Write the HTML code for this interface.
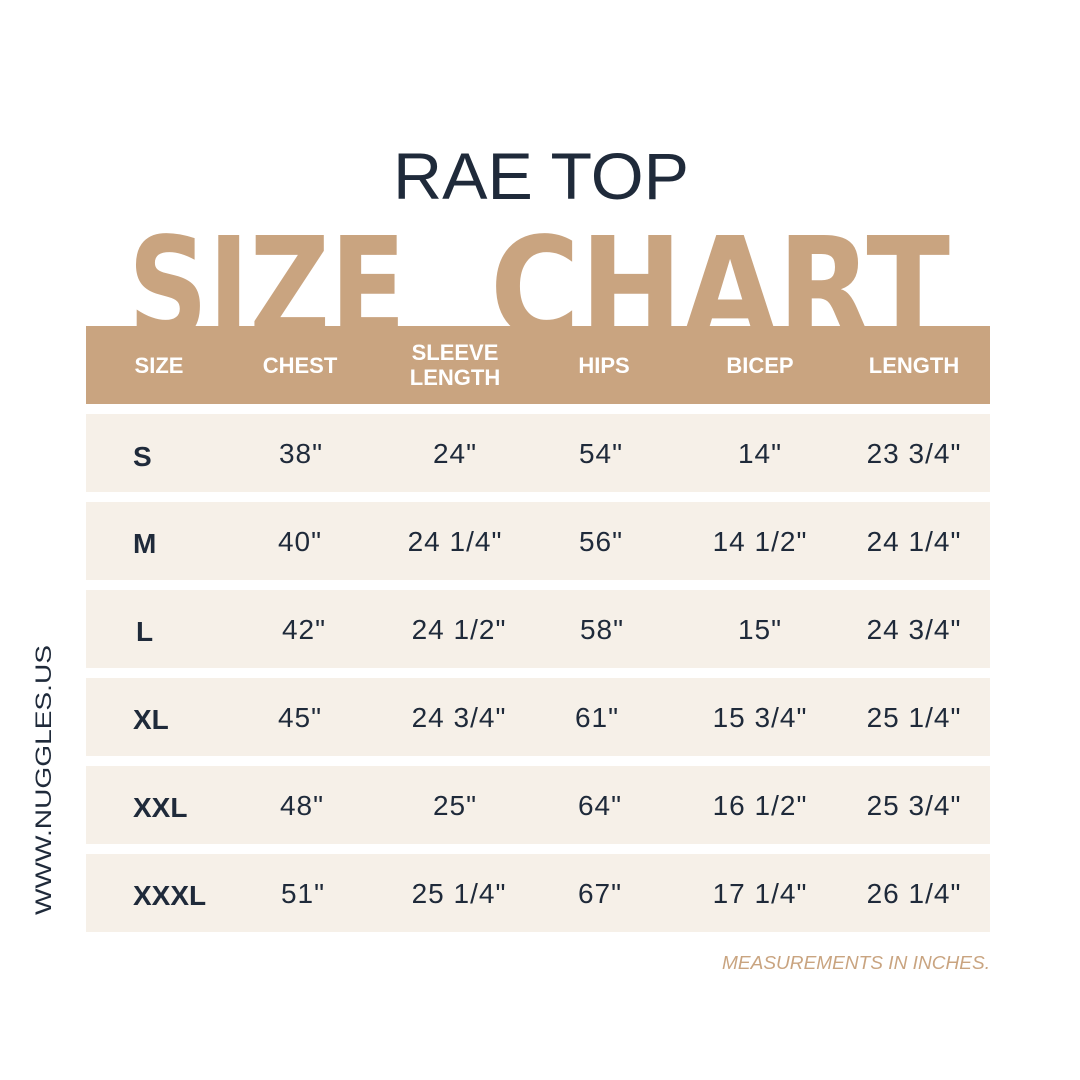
<!DOCTYPE html>
<html><head><meta charset="utf-8"><style>
html,body{margin:0;padding:0;background:#fff;}
svg{display:block}
</style></head><body>
<svg width="1080" height="1080" viewBox="0 0 1080 1080" xmlns="http://www.w3.org/2000/svg" font-family="Liberation Sans, sans-serif">
<rect width="1080" height="1080" fill="#fff"/>
<text x="541" y="199" text-anchor="middle" font-size="66" fill="#1f2a3a" textLength="296" lengthAdjust="spacingAndGlyphs">RAE TOP</text>
<g font-family="DejaVu Sans, sans-serif" font-size="140" font-weight="bold" fill="#c9a480">
<text x="128" y="337" textLength="278" lengthAdjust="spacingAndGlyphs">SIZE</text>
<text x="490" y="337" textLength="460" lengthAdjust="spacingAndGlyphs">CHART</text>
</g>
<rect x="86" y="326" width="904" height="78" fill="#c9a480"/>
<g fill="#fff" font-weight="bold" font-size="22" text-anchor="middle">
<text x="159" y="373">SIZE</text>
<text x="300" y="373">CHEST</text>
<text x="455" y="360">SLEEVE</text>
<text x="455" y="385">LENGTH</text>
<text x="604" y="373">HIPS</text>
<text x="760" y="373">BICEP</text>
<text x="914" y="373">LENGTH</text>
</g>
<g fill="#f6f0e8">
<rect x="86" y="414" width="904" height="78"/>
<rect x="86" y="502" width="904" height="78"/>
<rect x="86" y="590" width="904" height="78"/>
<rect x="86" y="678" width="904" height="78"/>
<rect x="86" y="766" width="904" height="78"/>
<rect x="86" y="854" width="904" height="78"/>
</g>
<g fill="#1f2a3a" font-size="28">
<g font-weight="bold">
<text x="133" y="466">S</text>
<text x="133" y="553">M</text>
<text x="136" y="641">L</text>
<text x="133" y="729">XL</text>
<text x="133" y="817">XXL</text>
<text x="133" y="905">XXXL</text>
</g>
<g text-anchor="middle" letter-spacing="1">
<text x="301" y="463">38"</text><text x="455" y="463">24"</text><text x="601" y="463">54"</text><text x="760" y="463">14"</text><text x="914" y="463">23 3/4"</text>
<text x="300" y="551">40"</text><text x="455" y="551">24 1/4"</text><text x="601" y="551">56"</text><text x="760" y="551">14 1/2"</text><text x="914" y="551">24 1/4"</text>
<text x="304" y="639">42"</text><text x="459" y="639">24 1/2"</text><text x="602" y="639">58"</text><text x="760" y="639">15"</text><text x="914" y="639">24 3/4"</text>
<text x="300" y="727">45"</text><text x="459" y="727">24 3/4"</text><text x="597" y="727">61"</text><text x="760" y="727">15 3/4"</text><text x="914" y="727">25 1/4"</text>
<text x="302" y="815">48"</text><text x="455" y="815">25"</text><text x="600" y="815">64"</text><text x="760" y="815">16 1/2"</text><text x="914" y="815">25 3/4"</text>
<text x="303" y="903">51"</text><text x="459" y="903">25 1/4"</text><text x="600" y="903">67"</text><text x="760" y="903">17 1/4"</text><text x="914" y="903">26 1/4"</text>
</g>
</g>
<text x="990" y="969" text-anchor="end" font-size="18" font-style="italic" fill="#c9a480" textLength="268" lengthAdjust="spacingAndGlyphs">MEASUREMENTS IN INCHES.</text>
<text transform="translate(51,915) rotate(-90)" font-size="22" fill="#1f2a3a" textLength="270" lengthAdjust="spacingAndGlyphs">WWW.NUGGLES.US</text>
</svg>
</body></html>
